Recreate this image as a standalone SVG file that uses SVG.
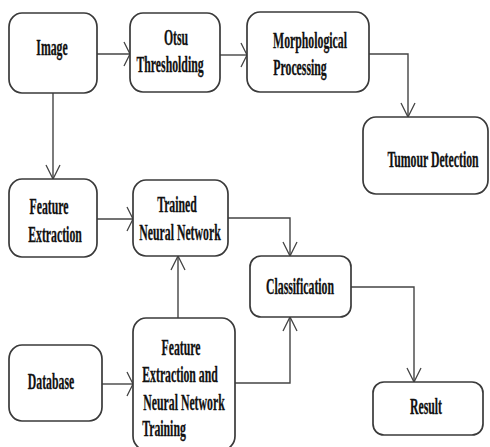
<svg xmlns="http://www.w3.org/2000/svg" width="490" height="447" viewBox="0 0 490 447">
<defs>
<style>
.box{fill:#fff;stroke:#3a3a3a;stroke-width:1.7}
.t{font-family:"Liberation Serif","Times New Roman",serif;font-weight:bold;font-size:23px;fill:#111;stroke:#111;stroke-width:0.3;text-anchor:middle}
.c{fill:none;stroke:#444;stroke-width:1.4}
</style>
<marker id="ah" markerUnits="userSpaceOnUse" viewBox="-10 -15 12 30" refX="0" refY="0" markerWidth="12" markerHeight="30" orient="auto" overflow="visible">
<path d="M-6,-12 L0,0 L-6,12" fill="none" stroke="#444" stroke-width="1.3"/>
</marker>
<marker id="av" markerUnits="userSpaceOnUse" viewBox="-16 -10 18 20" refX="0" refY="0" markerWidth="18" markerHeight="20" orient="auto" overflow="visible">
<path d="M-14,-7 L0,0 L-14,7" fill="none" stroke="#444" stroke-width="1.3"/>
</marker>
</defs>
<rect width="490" height="447" fill="#fff"/>
<g id="connectors">
<path class="c" d="M97,54 H130" marker-end="url(#ah)"/>
<path class="c" d="M220,55 H247" marker-end="url(#ah)"/>
<path class="c" d="M369,54 H408 V117" marker-end="url(#av)"/>
<path class="c" d="M53,93 V179" marker-end="url(#av)"/>
<path class="c" d="M97,219 H133" marker-end="url(#ah)"/>
<path class="c" d="M178,318 V256" marker-end="url(#av)"/>
<path class="c" d="M228,218 H290 V256" marker-end="url(#av)"/>
<path class="c" d="M235,383 H290 V317" marker-end="url(#av)"/>
<path class="c" d="M351,287 H414 V382" marker-end="url(#av)"/>
<path class="c" d="M102,384 H133" marker-end="url(#ah)"/>
</g>
<g id="image">
<rect class="box" x="9" y="13" width="88" height="80" rx="13" ry="14"/>
<text class="t" transform="translate(52,55) scale(0.512,1)">Image</text>
</g>
<g id="otsu">
<rect class="box" x="130" y="13" width="90" height="79" rx="13" ry="14"/>
<text class="t" transform="translate(176,45) scale(0.512,1)">Otsu</text>
<text class="t" transform="translate(170,72) scale(0.512,1)">Thresholding</text>
</g>
<g id="morph">
<rect class="box" x="247" y="12" width="122" height="80" rx="13" ry="14"/>
<text class="t" transform="translate(310,48) scale(0.512,1)">Morphological</text>
<text class="t" transform="translate(300,75) scale(0.512,1)">Processing</text>
</g>
<g id="tumour">
<rect class="box" x="363" y="117" width="125" height="77" rx="13" ry="14"/>
<text class="t" transform="translate(433,167) scale(0.512,1)">Tumour Detection</text>
</g>
<g id="feature">
<rect class="box" x="9" y="179" width="88" height="78" rx="13" ry="14"/>
<text class="t" transform="translate(49,214) scale(0.512,1)">Feature</text>
<text class="t" transform="translate(55,242) scale(0.512,1)">Extraction</text>
</g>
<g id="trained">
<rect class="box" x="133" y="180" width="95" height="76" rx="13" ry="14"/>
<text class="t" transform="translate(177,212) scale(0.512,1)">Trained</text>
<text class="t" transform="translate(180,240) scale(0.512,1)">Neural Network</text>
</g>
<g id="classification">
<rect class="box" x="250" y="256" width="101" height="61" rx="11" ry="11"/>
<text class="t" transform="translate(300,294) scale(0.512,1)">Classification</text>
</g>
<g id="result">
<rect class="box" x="373" y="382" width="110" height="53" rx="11" ry="11"/>
<text class="t" transform="translate(426,414) scale(0.512,1)">Result</text>
</g>
<g id="database">
<rect class="box" x="9" y="345" width="93" height="76" rx="13" ry="14"/>
<text class="t" transform="translate(51,389) scale(0.512,1)">Database</text>
</g>
<g id="fennt">
<rect class="box" x="133" y="318" width="102" height="132" rx="13" ry="14"/>
<text class="t" transform="translate(181,355) scale(0.512,1)">Feature</text>
<text class="t" transform="translate(180,382) scale(0.512,1)">Extraction and</text>
<text class="t" transform="translate(184,410) scale(0.512,1)">Neural Network</text>
<text class="t" transform="translate(164,436) scale(0.512,1)">Training</text>
</g>
</svg>
